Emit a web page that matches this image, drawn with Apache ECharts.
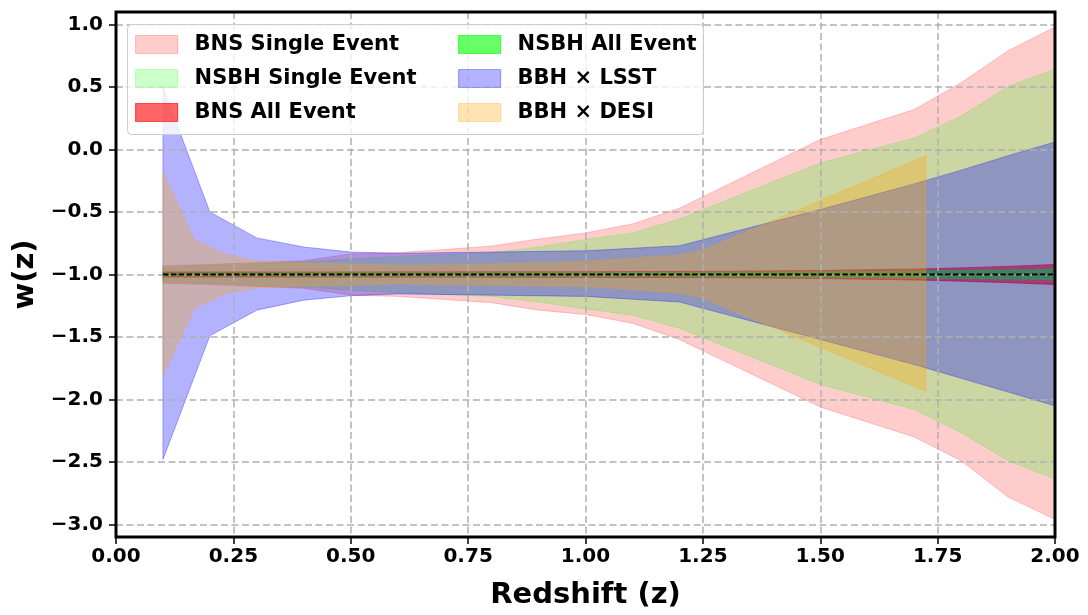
<!DOCTYPE html>
<html><head><meta charset="utf-8">
<script src="https://cdn.jsdelivr.net/npm/echarts@6/dist/echarts.min.js"></script>
<style>html,body{margin:0;padding:0;background:#fff}#c{width:1088px;height:615px}</style>
</head><body><div id="c"></div><script>
// ---- data ----
const seriesNames = ['BNS Single Event', 'NSBH Single Event', 'BNS All Event', 'NSBH All Event', 'BBH × LSST', 'BBH × DESI'];

const bnsSingleZ  = [0.1, 0.2, 0.3, 0.4, 0.5, 0.6, 0.7, 0.8, 0.9, 1.0, 1.1, 1.2, 1.5, 1.7, 1.8, 1.9, 2.0];
const bnsSingleHi = [-0.93, -0.92, -0.905, -0.89, -0.835, -0.825, -0.80, -0.772, -0.715, -0.667, -0.595, -0.47, 0.08, 0.32, 0.535, 0.79, 0.98];
const bnsSingleLo = [-1.07, -1.08, -1.095, -1.11, -1.165, -1.175, -1.20, -1.225, -1.285, -1.32, -1.39, -1.52, -2.06, -2.30, -2.49, -2.78, -2.96];

const nsbhSingleZ  = [0.1, 0.2, 0.3, 0.4, 0.5, 0.6, 0.7, 0.8, 0.9, 1.0, 1.1, 1.2, 1.5, 1.7, 1.8, 1.9, 2.0];
const nsbhSingleHi = [-0.945, -0.93, -0.915, -0.90, -0.875, -0.855, -0.84, -0.825, -0.78, -0.72, -0.667, -0.555, -0.107, 0.093, 0.267, 0.505, 0.645];
const nsbhSingleLo = [-1.055, -1.07, -1.085, -1.10, -1.125, -1.145, -1.16, -1.175, -1.22, -1.275, -1.325, -1.43, -1.88, -2.08, -2.265, -2.49, -2.635];

const bnsAllZ  = [0.1, 0.5, 1.0, 1.3, 1.5, 1.725, 1.8, 1.9, 2.0];
const bnsAllHi = [-0.98, -0.98, -0.978, -0.974, -0.968, -0.955, -0.947, -0.935, -0.92];
const bnsAllLo = [-1.02, -1.02, -1.022, -1.026, -1.032, -1.045, -1.053, -1.065, -1.08];

const nsbhAllZ  = [0.1, 1.0, 1.5, 1.725, 2.0];
const nsbhAllHi = [-0.988, -0.985, -0.978, -0.972, -0.96];
const nsbhAllLo = [-1.012, -1.015, -1.022, -1.028, -1.04];

const lsstZ  = [0.1, 0.2, 0.3, 0.4, 0.5, 0.6, 0.8, 1.0, 1.2, 1.5, 1.7, 1.8, 1.9, 2.0];
const lsstHi = [0.5, -0.5, -0.707, -0.78, -0.82, -0.83, -0.82, -0.81, -0.77, -0.48, -0.275, -0.165, -0.05, 0.06];
const lsstLo = [-2.48, -1.49, -1.285, -1.205, -1.17, -1.155, -1.165, -1.175, -1.22, -1.52, -1.72, -1.83, -1.94, -2.05];

const desiZ  = [0.1, 0.167, 0.233, 0.3, 0.4, 0.6, 0.8, 1.0, 1.2, 1.25, 1.725];
const desiHi = [-0.18, -0.72, -0.84, -0.893, -0.907, -0.925, -0.915, -0.895, -0.845, -0.805, -0.05];
const desiLo = [-1.81, -1.27, -1.152, -1.107, -1.093, -1.075, -1.085, -1.095, -1.145, -1.19, -1.935];

const refZ = [0.1, 2.0];
const refW = [-1, -1];

const xTicks = [0, 0.25, 0.5, 0.75, 1.0, 1.25, 1.5, 1.75, 2.0];
const yTicks = [-3.0, -2.5, -2.0, -1.5, -1.0, -0.5, 0.0, 0.5, 1.0];

// ---- styles ----
const FONT = "'DejaVu Sans', sans-serif";
const colors = ['rgba(255,0,0,0.2)', 'rgba(0,255,0,0.2)', 'rgba(255,0,0,0.6)', 'rgba(0,255,0,0.6)', 'rgba(0,0,255,0.3)', 'rgba(255,165,0,0.3)'];
const bands = [
  [bnsSingleZ, bnsSingleLo, bnsSingleHi],
  [nsbhSingleZ, nsbhSingleLo, nsbhSingleHi],
  [bnsAllZ, bnsAllLo, bnsAllHi],
  [nsbhAllZ, nsbhAllLo, nsbhAllHi],
  [lsstZ, lsstLo, lsstHi],
  [desiZ, desiLo, desiHi]
];

function bandSeries(idx) {
  const [zs, lo, hi] = bands[idx];
  const col = colors[idx];
  return {
    type: 'custom', name: seriesNames[idx], z: 1, clip: true,
    itemStyle: { color: col },
    data: zs.map((z, i) => [z, lo[i], hi[i]]),
    encode: { x: 0, y: [1, 2] },
    renderItem: function (params, api) {
      if (params.dataIndex !== 0) return null;
      const pts = [];
      for (let i = 0; i < zs.length; i++) pts.push(api.coord([zs[i], hi[i]]));
      for (let i = zs.length - 1; i >= 0; i--) pts.push(api.coord([zs[i], lo[i]]));
      return { type: 'polygon', shape: { points: pts }, style: { fill: col, stroke: col, lineWidth: 1 } };
    }
  };
}

const series = bands.map((b, i) => bandSeries(i));
series.push({
  type: 'line', name: 'ref', z: 5, symbol: 'none', silent: true,
  data: refZ.map((z, i) => [z, refW[i]]),
  lineStyle: { color: '#000', width: 1.8, type: [5.5, 2.4] }
});

function legendItems(ids) {
  return ids.map(i => ({ name: seriesNames[i], itemStyle: { color: colors[i], borderColor: colors[i], borderWidth: 1.2 } }));
}
const legendText = { fontFamily: FONT, fontWeight: 'bold', fontSize: 21, color: '#000', padding: [0, 0, 0, 12] };

const chart = echarts.init(document.getElementById('c'), null, { renderer: 'canvas' });
chart.setOption({
  animation: false,
  backgroundColor: '#fff',
  grid: { left: 116, right: 33, top: 12, bottom: 78, show: true, borderColor: '#000', borderWidth: 3, z: 8, outerBoundsMode: 'none', containLabel: false },
  xAxis: {
    type: 'value', min: 0, max: 2, interval: 0.25, z: 3,
    name: 'Redshift (z)', nameLocation: 'middle', nameGap: 44,
    nameTextStyle: { fontFamily: FONT, fontWeight: 'bold', fontSize: 29, color: '#000' },
    axisLine: { show: false, onZero: false },
    axisTick: { show: true, length: 7, lineStyle: { color: '#000', width: 1.5 } },
    axisLabel: { fontFamily: FONT, fontWeight: 'bold', fontSize: 20, color: '#000', margin: 10, showMinLabel: true, showMaxLabel: true,
      formatter: v => v.toFixed(2) },
    splitLine: { show: true, lineStyle: { color: '#b0b0b0', width: 1.5, type: [7, 3.5] } }
  },
  yAxis: {
    type: 'value', min: -3.1, max: 1.1, z: 3,
    name: 'w(z)', nameLocation: 'middle', nameGap: 70,
    nameTextStyle: { fontFamily: FONT, fontWeight: 'bold', fontSize: 29, color: '#000' },
    axisLine: { show: false, onZero: false },
    axisTick: { show: true, length: 7, customValues: yTicks, lineStyle: { color: '#000', width: 1.5 } },
    axisLabel: { fontFamily: FONT, fontWeight: 'bold', fontSize: 20, color: '#000', margin: 13, customValues: yTicks,
      formatter: v => (v < -1e-9 ? '\u2212' : '') + Math.abs(v).toFixed(1) },
    splitLine: { show: true, lineStyle: { color: '#b0b0b0', width: 1.5, type: [7, 3.5] } }
  },
  legend: [
    { data: legendItems([0, 1, 2]), orient: 'vertical', left: 135, top: 34, itemWidth: 42, itemHeight: 18, itemGap: 13, icon: 'rect', textStyle: legendText, selectedMode: false, z: 12, padding: 0 },
    { data: legendItems([3, 4, 5]), orient: 'vertical', left: 458, top: 34, itemWidth: 42, itemHeight: 18, itemGap: 13, icon: 'rect', textStyle: legendText, selectedMode: false, z: 12, padding: 0 }
  ],
  graphic: [{
    type: 'rect', z: 10, silent: true,
    shape: { x: 127.5, y: 24.5, width: 576, height: 110, r: 4 },
    style: { fill: 'rgba(255,255,255,0.8)', stroke: '#cccccc', lineWidth: 1 }
  }],
  series: series
});
</script></body></html>
